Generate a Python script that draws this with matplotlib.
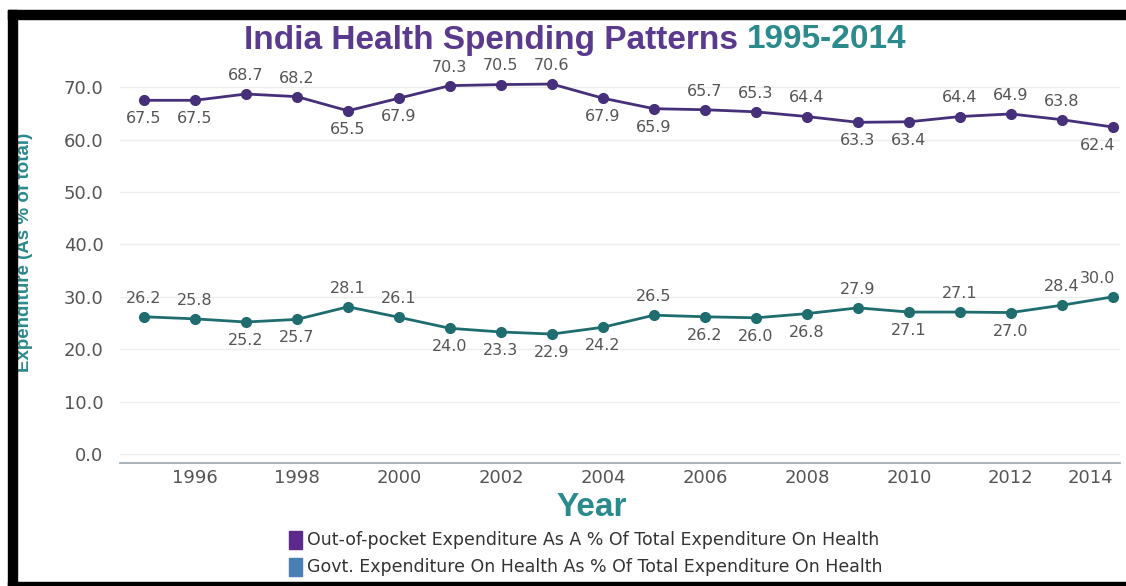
import matplotlib
matplotlib.use("Agg")
import matplotlib.pyplot as plt
from matplotlib.patches import Rectangle

# data
years = list(range(1995, 2015))
oop = [67.5, 67.5, 68.7, 68.2, 65.5, 67.9, 70.3, 70.5, 70.6, 67.9,
       65.9, 65.7, 65.3, 64.4, 63.3, 63.4, 64.4, 64.9, 63.8, 62.4]
govt = [26.2, 25.8, 25.2, 25.7, 28.1, 26.1, 24.0, 23.3, 22.9, 24.2,
        26.5, 26.2, 26.0, 26.8, 27.9, 27.1, 27.1, 27.0, 28.4, 30.0]
# label above (1) or below (-1) the point
oop_pos = [-1, -1, 1, 1, -1, -1, 1, 1, 1, -1, -1, 1, 1, 1, -1, -1, 1, 1, 1, -1]
govt_pos = [1, 1, -1, -1, 1, 1, -1, -1, -1, -1, 1, -1, -1, -1, 1, -1, 1, -1, 1, 1]
yticks = [0, 10, 20, 30, 40, 50, 60, 70]
xticks = list(range(1996, 2015, 2))
legend_labels = ["Out-of-pocket Expenditure As A % Of Total Expenditure On Health",
                 "Govt. Expenditure On Health As % Of Total Expenditure On Health"]

PURPLE = "#5a3a8e"
PURPLE_LINE = "#46307a"
TEAL = "#2a8a8c"
TEAL_LINE = "#1f6d6f"
LEG_PURPLE = "#5b2a8c"
LEG_BLUE = "#4a7fb3"
W, H = 1126, 586

fig = plt.figure(figsize=(W / 100, H / 100), dpi=100)
fig.patch.set_facecolor("white")


def px(x0, y0, x1, y1):
    """pixel box (top-left origin) -> figure fraction rect"""
    return [x0 / W, 1 - y1 / H, (x1 - x0) / W, (y1 - y0) / H]


# black frame round the picture
for x0, y0, x1, y1 in [(8, 10, W, 19), (8, 10, 17, H), (8, 582, W, H)]:
    fig.patches.append(Rectangle((x0 / W, 1 - y1 / H), (x1 - x0) / W, (y1 - y0) / H,
                                 transform=fig.transFigure, color="black", zorder=5))

ax = fig.add_axes(px(120, 72, 1120, 463))
ax.set_xlim(1994.53, 2014.14)
ax.set_ylim(-1.7, 72.9)

ax.plot(years, oop, "-o", color=PURPLE_LINE, lw=2, ms=7, zorder=3)
ax.plot(years, govt, "-o", color=TEAL_LINE, lw=2, ms=7, zorder=3)

for series, pos in [(oop, oop_pos), (govt, govt_pos)]:
    for x, v, p in zip(years, series, pos):
        dx = -11 if x == years[-1] else 0
        ax.annotate(f"{v:.1f}", (x, v), xytext=(dx, 8 * p), textcoords="offset points",
                    ha="center", va="bottom" if p > 0 else "top",
                    fontsize=11.5, color="#555555")

ax.set_yticks(yticks)
ax.set_yticklabels([f"{t:.1f}" for t in yticks])
ax.set_xticks(xticks)
ax.tick_params(length=0, labelsize=13, labelcolor="#555555")
ax.tick_params(axis="y", pad=12)
ax.tick_params(axis="x", pad=4)
ax.get_xticklabels()[-1].set_horizontalalignment("right")
ax.get_xticklabels()[-1].set_x(2014.1)
ax.grid(axis="y", color="#ececec", lw=1)
ax.set_axisbelow(True)
for s in ["top", "right", "left"]:
    ax.spines[s].set_visible(False)
ax.spines["bottom"].set_color("#9aa3ad")
ax.spines["bottom"].set_linewidth(1.2)

# two-colour title
t1 = fig.text(0, 1 - 40 / H, "India Health Spending Patterns ", fontsize=24,
              fontweight="bold", color=PURPLE, family="Liberation Sans", va="center")
t2 = fig.text(0, 1 - 40 / H, "1995-2014", fontsize=24, fontweight="bold",
              color=TEAL, family="Liberation Sans", va="center")
fig.canvas.draw()
r = fig.canvas.get_renderer()
w1 = t1.get_window_extent(r).width
w2 = t2.get_window_extent(r).width
start = 575 - (w1 + w2) / 2
t1.set_x(start / W)
t2.set_x((start + w1) / W)

fig.text(25 / W, 1 - 252 / H, "Expenditure (As % of total)", rotation=90,
         ha="center", va="center", fontsize=13.5, fontweight="bold", color=TEAL,
         family="Liberation Sans")
fig.text(592 / W, 1 - 508 / H, "Year", ha="center", va="center", fontsize=24,
         fontweight="bold", color=TEAL, family="Liberation Sans")

# legend
for i, (lab, col) in enumerate(zip(legend_labels, [LEG_PURPLE, LEG_BLUE])):
    yc = 540 + 27 * i
    fig.patches.append(Rectangle((289 / W, 1 - (yc + 9) / H), 13 / W, 18 / H,
                                 transform=fig.transFigure, color=col))
    fig.text(307 / W, 1 - yc / H, lab, va="center", ha="left", fontsize=12.5,
             color="#333333")

fig.savefig("out.png", dpi=100, facecolor="white")
